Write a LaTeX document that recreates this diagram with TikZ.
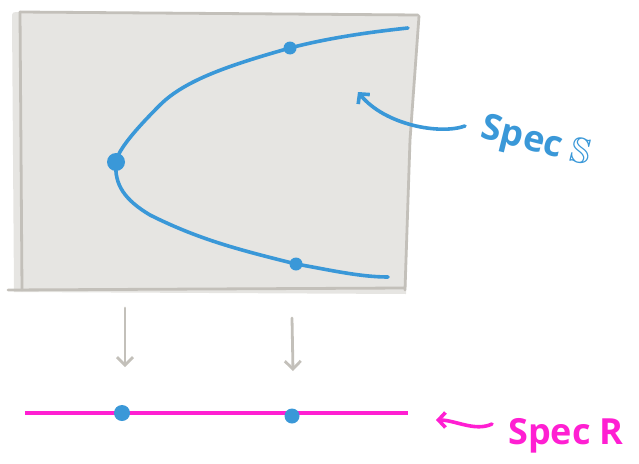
\documentclass[tikz,border=0pt]{standalone}
\usepackage{fontspec}
\usepackage{amssymb}
\setmainfont{Open Sans}
\usetikzlibrary{arrows.meta}
\definecolor{sblue}{HTML}{3A98D8}
\definecolor{pmag}{HTML}{FF1FD2}
\definecolor{gfill}{HTML}{E6E5E2}
\definecolor{gline}{HTML}{C3C0BA}
\tikzset{
  bord/.style={draw=gline, line width=2.8pt, line cap=round},
  curv/.style={draw=sblue, line width=3.6pt, line cap=round},
  dotb/.style={circle, fill=sblue, inner sep=0pt, minimum size=#1},
  garrow/.style={draw=gline, line width=2.8pt, line cap=round, -{Straight Barb[length=8pt,width=16pt]}},
  barrow/.style={draw=sblue, line width=3.6pt, line cap=round, -{Straight Barb[length=7pt,width=15pt]}},
  marrow/.style={draw=pmag, line width=3.6pt, line cap=round, -{Straight Barb[length=7pt,width=15pt]}},
  lbl/.style={inner sep=0pt, font=\fontsize{36}{36}\selectfont\bfseries}
}
\begin{document}
\begin{tikzpicture}[x=1pt,y=-1pt]
\useasboundingbox (0,0) rectangle (639,463);
% gray region
\fill[gfill] (12,18) .. controls (12,12) .. (20,12) -- (418,14) -- (410,150) -- (406,294) -- (14,292) -- cycle;
\draw[bord] (20,12) -- (418,15);
\draw[bord] (20,12) -- (22,290);
\draw[bord] (8,290) -- (404,288);
\draw[bord] (419,16) -- (410,140) -- (405,290);
% curve
\coordinate (c0) at (408,28);
\node[dotb=13pt] (p1) at (290,48) {};
\node[dotb=18pt] (p0) at (116,162) {};
\node[dotb=13pt] (p2) at (296,264) {};
\coordinate (c1) at (388,277);
\draw[curv] (c0) .. controls (360,33) and (320,40) .. (p1.center)
  .. controls (230,65) and (185,80) .. (160,105)
  .. controls (135,130) and (118,150) .. (p0.center)
  .. controls (114,185) and (125,200) .. (150,215)
  .. controls (200,240) and (240,250) .. (p2.center)
  .. controls (330,270) and (360,277) .. (c1);
% Spec S
\node[lbl, text=sblue, rotate=-14] (specS) at (536,143) {Spec $\mathbb{S}$};
\coordinate (sA) at (465,126);
\coordinate (sB) at (358,92);
\draw[barrow] (sA) .. controls (440,135) and (385,125) .. (sB);
% vertical arrows
\coordinate (a1s) at (125,308);
\coordinate (a1e) at (125,367);
\coordinate (a2s) at (292,318);
\coordinate (a2e) at (293,371);
\draw[garrow] (a1s) -- (a1e);
\draw[garrow] (a2s) -- (a2e);
% Spec R line
\coordinate (l0) at (25,413);
\coordinate (l1) at (408,413);
\draw[draw=pmag, line width=3.2pt] (l0) -- (l1);
\node[dotb=16pt] (q1) at (122,413) {};
\node[dotb=15pt] (q2) at (292,416) {};
\node[lbl, text=pmag] (specR) at (566,436) {Spec R};
\coordinate (rA) at (492,424);
\coordinate (rB) at (436,420);
\draw[marrow] (rA) .. controls (475,432) and (455,420) .. (rB);
\end{tikzpicture}
\end{document}
